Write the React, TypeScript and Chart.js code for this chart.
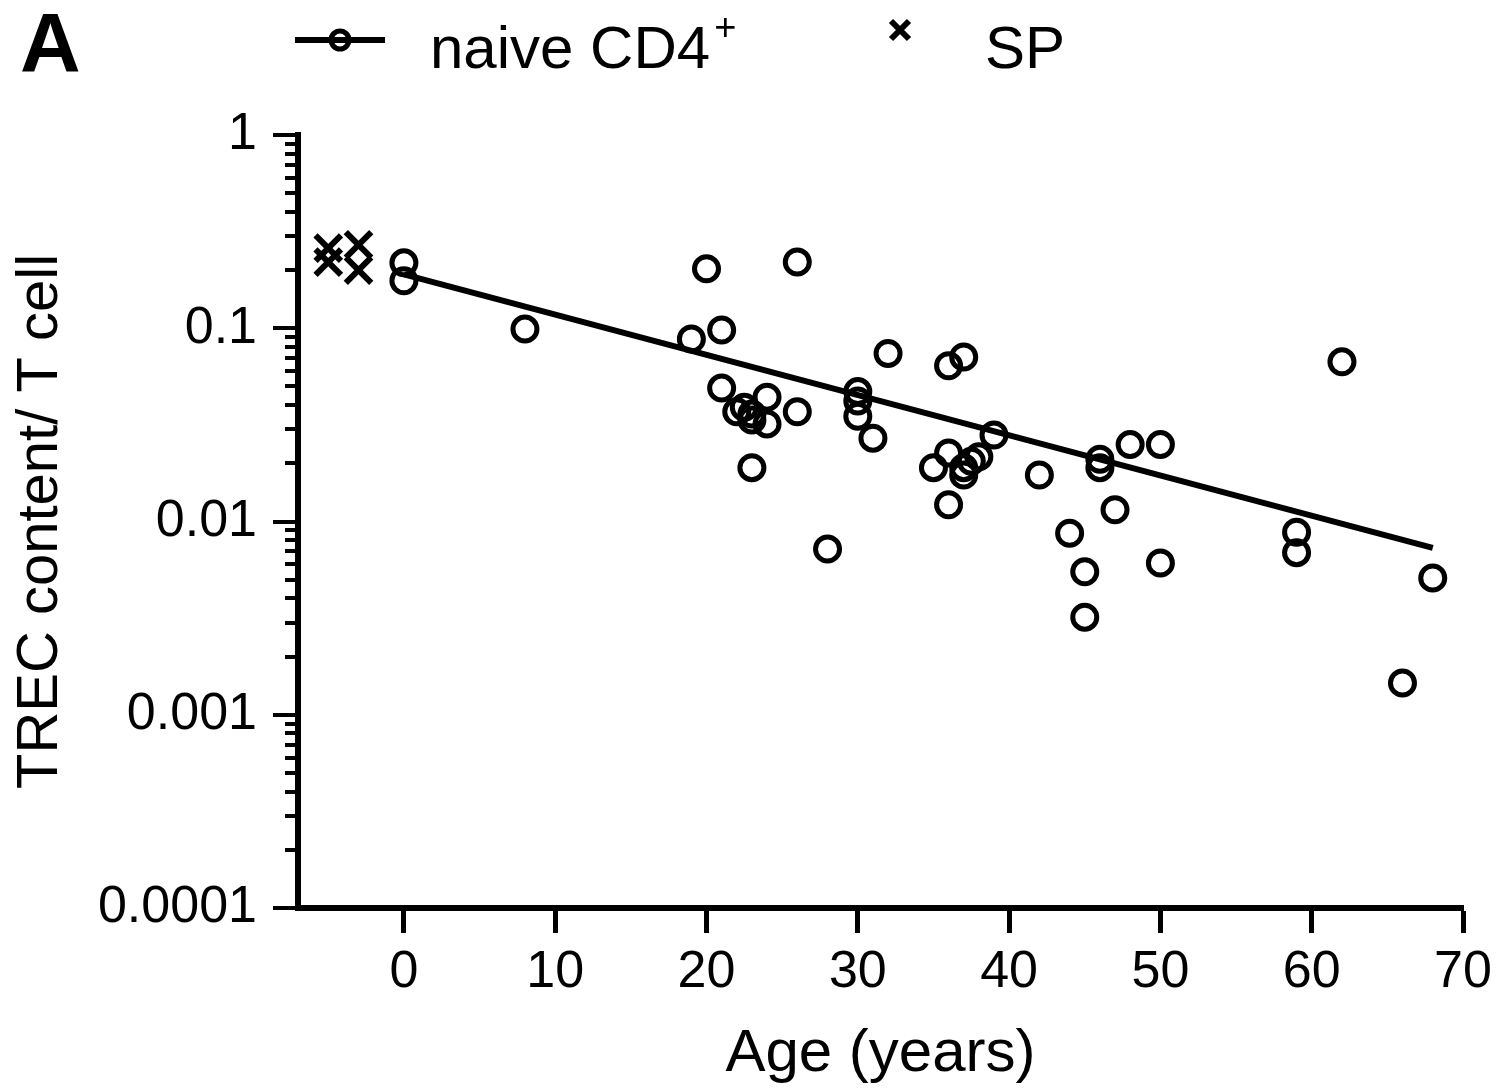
import React, { useEffect, useRef } from "react";
import { Chart, registerables } from "chart.js";

Chart.register(...registerables);

// naive CD4+ T cells: age (years) and TREC content per T cell
const naiveAge = [0, 0, 8, 19, 20, 21, 21, 22, 22.5, 23, 23, 23, 24, 24, 26, 26, 28, 30, 30, 30, 31, 32, 35, 36, 36, 36, 37, 37, 37, 37.5, 38, 39, 42, 44, 45, 45, 46, 46, 47, 48, 50, 50, 59, 59, 62, 66, 68];
const naiveTrec = [0.218, 0.176, 0.099, 0.088, 0.203, 0.098, 0.049, 0.037, 0.039, 0.0335, 0.036, 0.019, 0.044, 0.032, 0.22, 0.037, 0.0072, 0.047, 0.042, 0.035, 0.027, 0.074, 0.019, 0.064, 0.0226, 0.0122, 0.071, 0.019, 0.0174, 0.0205, 0.0216, 0.028, 0.0174, 0.0087, 0.0055, 0.0032, 0.021, 0.019, 0.0115, 0.025, 0.025, 0.0061, 0.0088, 0.0069, 0.067, 0.00146, 0.0051];

// SP thymocytes (plotted at negative ages)
const spAge = [-5, -5, -3, -3];
const spTrec = [0.26, 0.22, 0.27, 0.2];

// regression line end points
const fitAge = [0, 68];
const fitTrec = [0.19, 0.0073];

const xTicks = [0, 10, 20, 30, 40, 50, 60, 70];
const yDecades = [0.0001, 0.001, 0.01, 0.1, 1];
const yDecadeLabels = ["0.0001", "0.001", "0.01", "0.1", "1"];

const seriesNames = ["naive CD4", "SP"];
const xTitle = "Age (years)";
const yTitle = "TREC content/ T cell";
const panelLabel = "A";

const FONT = "'Liberation Sans', Arial, Helvetica, sans-serif";

function isDecade(v: number) {
  const l = Math.log10(v);
  return Math.abs(l - Math.round(l)) < 1e-9;
}

function yAllTicks() {
  const out: number[] = [];
  for (let i = 0; i < yDecades.length; i++) {
    out.push(yDecades[i]);
    if (i < yDecades.length - 1) {
      for (let m = 2; m <= 9; m++) out.push(+(yDecades[i] * m).toPrecision(6));
    }
  }
  return out;
}

const decorPlugin = {
  id: "decor",
  afterDraw(chart: any) {
    const ctx = chart.ctx;
    const ys = chart.scales.y;
    const area = chart.chartArea;
    ctx.save();
    // y ticks (major long, minor short)
    ctx.strokeStyle = "#000";
    ctx.lineWidth = 4;
    ys.ticks.forEach((t: any) => {
      const py = Math.round(ys.getPixelForValue(t.value));
      const len = isDecade(t.value) ? 25 : 13;
      ctx.beginPath();
      ctx.moveTo(area.left - len, py);
      ctx.lineTo(area.left, py);
      ctx.stroke();
    });

    // panel label
    ctx.fillStyle = "#000";
    ctx.textBaseline = "alphabetic";
    ctx.textAlign = "left";
    ctx.font = `bold 84px ${FONT}`;
    ctx.fillText(panelLabel, 20, 72);

    // legend: naive CD4+
    ctx.lineWidth = 6;
    ctx.beginPath();
    ctx.moveTo(295, 40);
    ctx.lineTo(385, 40);
    ctx.stroke();
    ctx.lineWidth = 5;
    ctx.beginPath();
    ctx.arc(340, 40, 9, 0, Math.PI * 2);
    ctx.stroke();
    ctx.font = `60px ${FONT}`;
    ctx.fillText(seriesNames[0], 430, 68);
    const w = ctx.measureText(seriesNames[0]).width;
    ctx.font = `38px ${FONT}`;
    ctx.fillText("+", 430 + w + 4, 40);

    // legend: SP
    ctx.lineWidth = 6;
    const cx = 900, cy = 30, r = 9;
    ctx.beginPath();
    ctx.moveTo(cx - r, cy - r);
    ctx.lineTo(cx + r, cy + r);
    ctx.moveTo(cx + r, cy - r);
    ctx.lineTo(cx - r, cy + r);
    ctx.stroke();
    ctx.font = `60px ${FONT}`;
    ctx.fillText(seriesNames[1], 985, 68);
    ctx.restore();
  },
};

export default function App() {
  const ref = useRef<HTMLCanvasElement | null>(null);

  useEffect(() => {
    if (!ref.current) return;
    const naiveData = naiveAge.map((x, i) => ({ x, y: naiveTrec[i] }));
    const spData = spAge.map((x, i) => ({ x, y: spTrec[i] }));
    const fitData = fitAge.map((x, i) => ({ x, y: fitTrec[i] }));

    const chart = new Chart(ref.current, {
      type: "scatter",
      data: {
        datasets: [
          {
            label: seriesNames[0],
            data: naiveData,
            pointStyle: "circle",
            pointRadius: 12,
            pointBorderWidth: 5,
            borderWidth: 5,
            borderColor: "#000",
            backgroundColor: "rgba(0,0,0,0)",
            pointBackgroundColor: "rgba(0,0,0,0)",
            pointBorderColor: "#000",
          },
          {
            label: seriesNames[1],
            data: spData,
            pointStyle: "crossRot",
            pointRadius: 18,
            pointBorderWidth: 6,
            borderWidth: 6,
            borderColor: "#000",
            pointBorderColor: "#000",
          },
          {
            label: "fit",
            data: fitData,
            showLine: true,
            pointRadius: 0,
            borderWidth: 6,
            borderColor: "#000",
          },
        ],
      },
      options: {
        animation: false,
        responsive: true,
        maintainAspectRatio: false,
        layout: { padding: { top: 135, right: 33, left: 0, bottom: 0 } },
        plugins: {
          legend: { display: false },
          tooltip: { enabled: false },
        },
        scales: {
          x: {
            type: "linear",
            min: -7,
            max: 70,
            afterBuildTicks: (s: any) => {
              s.ticks = xTicks.map((v) => ({ value: v }));
            },
            afterFit: (s: any) => {
              s.height = 1091 - 908;
              s.paddingRight = 0;
              s.paddingLeft = 0;
            },
            grid: {
              display: true,
              drawOnChartArea: false,
              drawTicks: true,
              tickLength: 25,
              tickWidth: 5,
              tickColor: "#000",
              color: "#000",
            },
            border: { display: true, width: 6, color: "#000" },
            ticks: {
              color: "#000",
              font: { size: 52, family: FONT },
              padding: 8,
              autoSkip: false,
              maxRotation: 0,
            },
            title: {
              display: true,
              text: xTitle,
              color: "#000",
              font: { size: 60, family: FONT },
              padding: { top: 4, bottom: 1 },
            },
          },
          y: {
            type: "logarithmic",
            min: 0.0001,
            max: 1,
            afterBuildTicks: (s: any) => {
              s.ticks = yAllTicks().map((v) => ({ value: v, major: isDecade(v) }));
            },
            afterFit: (s: any) => {
              s.width = 298;
              s.paddingTop = 0;
              s.paddingBottom = 0;
            },
            grid: { display: false },
            border: { display: true, width: 6, color: "#000" },
            ticks: {
              color: "#000",
              font: { size: 52, family: FONT },
              padding: 33,
              autoSkip: false,
              callback: (v: any) => {
                const idx = yDecades.findIndex((d) => Math.abs(d - Number(v)) < d * 1e-6);
                return idx >= 0 ? yDecadeLabels[idx] : "";
              },
            },
            title: {
              display: true,
              text: yTitle,
              color: "#000",
              font: { size: 58, family: FONT },
              padding: { top: 6, bottom: 0 },
            },
          },
        },
      },
      plugins: [decorPlugin],
    } as any);

    return () => chart.destroy();
  }, []);

  return (
    <div style={{ position: "absolute", left: 0, top: 0, width: 1496, height: 1091, background: "#fff" }}>
      <canvas ref={ref} />
    </div>
  );
}
